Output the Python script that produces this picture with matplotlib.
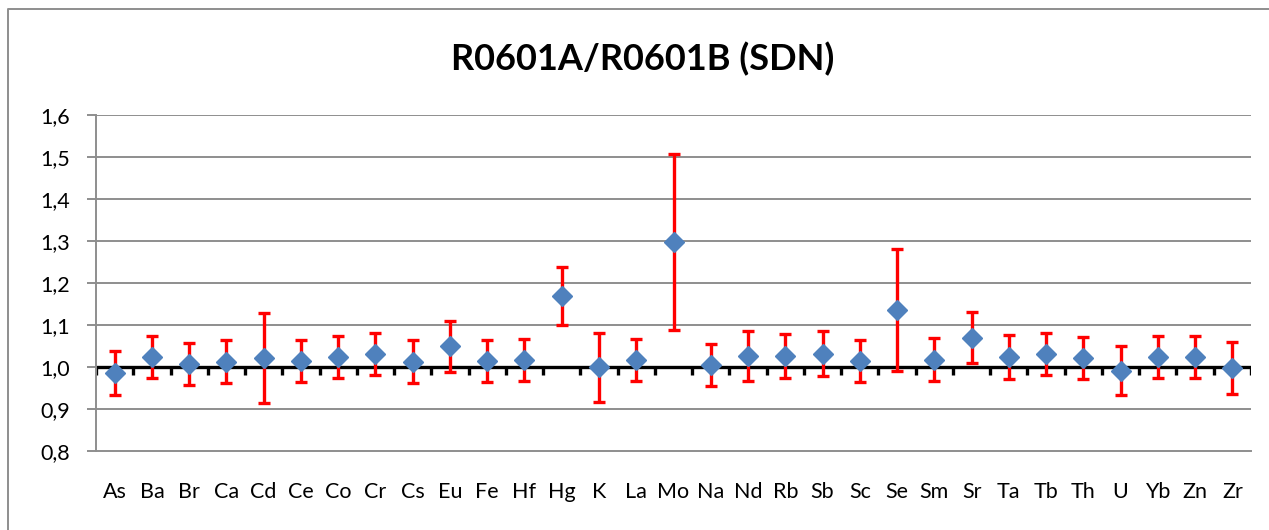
import matplotlib
matplotlib.use('Agg')
import matplotlib.pyplot as plt
from matplotlib.lines import Line2D
import numpy as np

elements = ['As', 'Ba', 'Br', 'Ca', 'Cd', 'Ce', 'Co', 'Cr', 'Cs', 'Eu', 'Fe',
            'Hf', 'Hg', 'K', 'La', 'Mo', 'Na', 'Nd', 'Rb', 'Sb', 'Sc', 'Se',
            'Sm', 'Sr', 'Ta', 'Tb', 'Th', 'U', 'Yb', 'Zn', 'Zr']
ratio = [0.986, 1.023, 1.007, 1.013, 1.022, 1.015, 1.023, 1.030, 1.013, 1.049,
         1.014, 1.016, 1.169, 0.999, 1.016, 1.298, 1.005, 1.026, 1.026, 1.032,
         1.015, 1.135, 1.017, 1.070, 1.024, 1.030, 1.021, 0.991, 1.023, 1.023,
         0.997]
err = [0.053, 0.050, 0.050, 0.051, 0.107, 0.050, 0.050, 0.050, 0.051, 0.060,
       0.050, 0.050, 0.070, 0.082, 0.050, 0.210, 0.050, 0.059, 0.053, 0.053,
       0.050, 0.145, 0.051, 0.060, 0.052, 0.050, 0.050, 0.058, 0.050, 0.050,
       0.062]
yticks = [0.8, 0.9, 1.0, 1.1, 1.2, 1.3, 1.4, 1.5, 1.6]
ytick_labels = ['0,8', '0,9', '1,0', '1,1', '1,2', '1,3', '1,4', '1,5', '1,6']

plt.rcParams['font.family'] = ['Lato', 'DejaVu Sans']

W, H = 1269, 530
fig = plt.figure(figsize=(W / 100, H / 100), dpi=100)
ax = fig.add_axes([96 / W, 1 - 451 / H, (1251 - 96) / W, (451 - 115) / H])

grid_col = '#8e8e8e'
x = np.arange(len(elements))

ax.set_xlim(-0.5, len(elements) - 0.5)
ax.set_ylim(0.8, 1.6)
ax.set_yticks(yticks)
ax.set_yticklabels(ytick_labels)
ax.set_xticks(x)
ax.set_xticklabels(elements)

for y in yticks[1:]:
    ax.axhline(y, color=grid_col, lw=1.4, zorder=1)

for s in ['top', 'right']:
    ax.spines[s].set_visible(False)
for s in ['left', 'bottom']:
    ax.spines[s].set_color(grid_col)
    ax.spines[s].set_linewidth(1.4)

ax.tick_params(axis='y', length=6.5, width=1.4, color=grid_col, pad=12,
               labelsize=15.5)
ax.tick_params(axis='x', length=0, pad=22, labelsize=15.5)

# category axis crossing at 1.0, with ticks between categories
ax.axhline(1.0, color='black', lw=2.4, zorder=2)
ax.vlines(np.arange(len(elements) + 1) - 0.5, 0.982, 1.0, color='black',
          lw=2.4, zorder=2)

ax.errorbar(x, ratio, yerr=err, fmt='none', ecolor='#ff0000', elinewidth=2.4,
            capsize=4.5, capthick=2.4, zorder=3)
ax.plot(x, ratio, linestyle='none', marker='D', ms=9.8, color='#4f81bd',
        markeredgecolor='#4f81bd', zorder=4)

fig.text(642.5 / W, 1 - 70 / H, 'R0601A/R0601B (SDN)', ha='center',
         va='baseline', fontsize=26, fontweight='bold')

# chart area border
bx, by = 8 / W, 1 - 9 / H
fig.add_artist(Line2D([bx, bx, 1.0], [0.0, by, by], color=grid_col, lw=1.4,
                      transform=fig.transFigure))

fig.savefig('out.png', dpi=100)
